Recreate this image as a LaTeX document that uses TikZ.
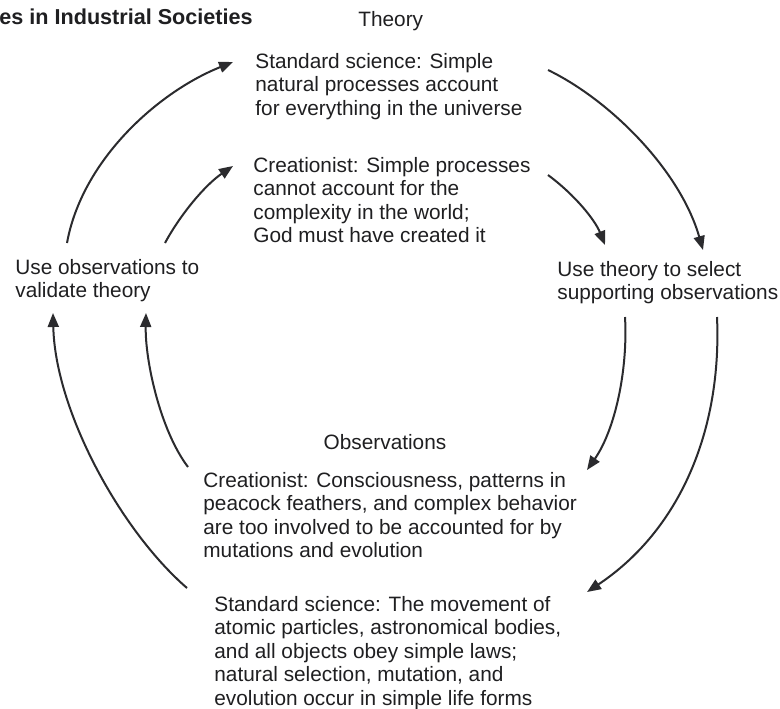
\documentclass[tikz,border=0pt]{standalone}
\usepackage{fontspec}
\setmainfont{Liberation Sans}
\usepackage{tikz}
\usetikzlibrary{arrows.meta}
\definecolor{inkgray}{rgb}{0.17,0.17,0.18}
\definecolor{textgray}{rgb}{0.12,0.12,0.13}
\tikzset{
  loopline/.style={draw=inkgray, line width=1pt, -{Triangle[length=7pt,width=5.5pt]}},
  blocktext/.style={anchor=north west, align=left, inner sep=0pt, text=textgray,
    font=\fontsize{10.4}{11.75}\selectfont}
}

\begin{document}
\begin{tikzpicture}[x=0.5pt,y=-0.5pt]
        \useasboundingbox (0,0) rectangle (780,708);
        \fill[white] (0,0) rectangle (780,708);

        % heading line
        \node[blocktext, anchor=base west, font=\fontsize{10.8}{12}\selectfont\bfseries] (title) at (-1,24)
          {es in Industrial Societies};
        \node[blocktext, anchor=base west] (theory) at (358,26) {Theory};

        % theory statements
        \node[blocktext] (stdtheory) at (255,53)
          {Standard science: Simple\\natural processes account\\for everything in the universe};
        \node[blocktext] (crtheory) at (253,157)
          {Creationist: Simple processes\\cannot account for the\\complexity in the world;\\God must have created it};

        % the two steps at the sides
        \node[blocktext] (validate) at (15,259) {Use observations to\\validate theory};
        \node[blocktext] (select) at (557,261) {Use theory to select\\supporting observations};

        % observation statements
        \node[blocktext, anchor=base] (observations) at (385,449) {Observations};
        \node[blocktext] (crobs) at (203,472)
          {Creationist: Consciousness, patterns in\\peacock feathers, and complex behavior\\are too involved to be accounted for by\\mutations and evolution};
        \node[blocktext] (stdobs) at (214,596)
          {Standard science: The movement of\\atomic particles, astronomical bodies,\\and all objects obey simple laws;\\natural selection, mutation, and\\evolution occur in simple life forms};

        % arrow ends
        \coordinate (vout) at (67,243);   \coordinate (stdin) at (233,62);
        \coordinate (vin) at (165,243);   \coordinate (crin) at (233,166);
        \coordinate (stdout) at (548,70); \coordinate (sout) at (703,250);
        \coordinate (crout) at (548,175); \coordinate (sin) at (605,245);
        \coordinate (sdown) at (625,317); \coordinate (crobsin) at (587,470);
        \coordinate (sfar) at (717,317);  \coordinate (stdobsin) at (587,592);
        \coordinate (crobsout) at (188,467); \coordinate (vup) at (146,313);
        \coordinate (stdobsout) at (187,588); \coordinate (vfar) at (53,313);

        % outer loop: standard science
        \draw[loopline] (vout) .. controls (82,160) and (158,92) .. (stdin);
        \draw[loopline] (stdout) .. controls (610,100) and (680,170) .. (sout);
        \draw[loopline] (sfar) .. controls (722,430) and (680,530) .. (stdobsin);
        \draw[loopline] (stdobsout) .. controls (120,530) and (55,410) .. (vfar);

        % inner loop: creationist
        \draw[loopline] (vin) .. controls (180,215) and (205,185) .. (crin);
        \draw[loopline] (crout) .. controls (575,195) and (595,220) .. (sin);
        \draw[loopline] (sdown) .. controls (628,370) and (615,430) .. (crobsin);
        \draw[loopline] (crobsout) .. controls (160,430) and (145,360) .. (vup);
\end{tikzpicture}
\end{document}
